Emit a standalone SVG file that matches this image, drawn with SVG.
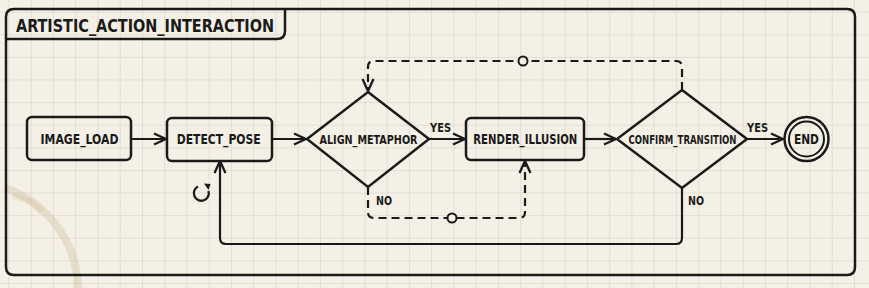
<svg xmlns="http://www.w3.org/2000/svg" width="869" height="288" viewBox="0 0 869 288">
<style>
.node{fill:none;stroke:#1a1a1a;stroke-width:2.5}
.lbl{font-family:"DejaVu Sans Condensed","DejaVu Sans",sans-serif;font-stretch:condensed;font-weight:bold;fill:#1a1a1a}
.conn{fill:none;stroke:#1a1a1a;stroke-width:2.2;stroke-linejoin:round}
.dash{stroke-dasharray:8 5}
</style>
<defs>
<pattern id="grid" patternUnits="userSpaceOnUse" x="8.45" y="11.7" width="22.25" height="22.6">
<path d="M0,0 V22.6 M0,0 H22.25" fill="none" stroke="#d3cec2" stroke-width="1"/>
</pattern>
<marker id="arr" viewBox="0 0 14 14" refX="13" refY="7" markerWidth="14" markerHeight="14" markerUnits="userSpaceOnUse" orient="auto">
<path d="M1,1.5 L13,7 L1,12.5" fill="none" stroke="#1a1a1a" stroke-width="2.3" stroke-linejoin="miter"/>
</marker>
</defs>
<rect width="869" height="288" fill="#f4f0e6"/>
<rect width="869" height="288" fill="url(#grid)"/>
<path d="M5,188 A108,108 0 0 1 78,288" fill="none" stroke="#c9b48f" stroke-opacity="0.3" stroke-width="8"/>
<path d="M12,196 Q30,198 42,212" fill="none" stroke="#c9b48f" stroke-opacity="0.22" stroke-width="6"/>

<g id="frame">
<path d="M6,17 Q6,9 14,9 H847 Q855,9 855,17 V267 Q855,275 847,275 H14 Q6,275 6,267 Z" fill="none" stroke="#1a1a1a" stroke-width="2.5"/>
<path d="M6,39 H277 Q285,39 285,31 V9" fill="none" stroke="#1a1a1a" stroke-width="2.5"/>
<text class="lbl" x="16" y="31.5" font-size="18" textLength="258" lengthAdjust="spacingAndGlyphs">ARTISTIC_ACTION_INTERACTION</text>
</g>

<g id="connectors">
<path class="conn" d="M131,139 H166" marker-end="url(#arr)"/>
<path class="conn" d="M272,139 H306" marker-end="url(#arr)"/>
<path class="conn" d="M429,139 H465" marker-end="url(#arr)"/>
<path class="conn" d="M584,139 H616" marker-end="url(#arr)"/>
<path class="conn" d="M747,139 H783" marker-end="url(#arr)"/>
<path class="conn dash" d="M368,187 V212 Q368,218 374,218 H519 Q525,218 525,212 V161" marker-end="url(#arr)"/>
<path class="conn dash" d="M682,90 V67 Q682,61 676,61 H374 Q368,61 368,67 V91" marker-end="url(#arr)"/>
<path class="conn" d="M682,188 V238 Q682,244 676,244 H226 Q220,244 220,238 V161" marker-end="url(#arr)"/>
<circle cx="452" cy="218" r="4.5" fill="#f4f0e6" stroke="#1a1a1a" stroke-width="2"/>
<circle cx="523" cy="61" r="4.5" fill="#f4f0e6" stroke="#1a1a1a" stroke-width="2"/>
<text class="lbl" x="430" y="131.5" font-size="13" textLength="21" lengthAdjust="spacingAndGlyphs">YES</text>
<text class="lbl" x="747" y="131.5" font-size="13" textLength="21" lengthAdjust="spacingAndGlyphs">YES</text>
<text class="lbl" x="376" y="205" font-size="13" textLength="16" lengthAdjust="spacingAndGlyphs">NO</text>
<text class="lbl" x="688" y="205" font-size="13" textLength="16" lengthAdjust="spacingAndGlyphs">NO</text>
</g>

<g id="loop-icon">
<path d="M198,186.5 A7.5,7.5 0 1 0 208.5,191" fill="none" stroke="#1a1a1a" stroke-width="2.3"/>
<path d="M204,183.5 L210.5,184 L208.5,190 Z" fill="#1a1a1a"/>
</g>

<g id="image_load">
<rect class="node" x="27" y="117" width="104" height="43" rx="5"/>
<text class="lbl" x="79.5" y="144.3" font-size="14.5" text-anchor="middle" textLength="78" lengthAdjust="spacingAndGlyphs">IMAGE_LOAD</text>
</g>
<g id="detect_pose">
<rect class="node" x="167" y="118" width="105" height="43" rx="5"/>
<text class="lbl" x="218.7" y="144.3" font-size="14" text-anchor="middle" textLength="84" lengthAdjust="spacingAndGlyphs">DETECT_POSE</text>
</g>
<g id="align_metaphor">
<polygon class="node" points="368,92 429,139 368,187 307,139"/>
<text class="lbl" x="368.5" y="144" font-size="12.5" text-anchor="middle" textLength="98" lengthAdjust="spacingAndGlyphs">ALIGN_METAPHOR</text>
</g>
<g id="render_illusion">
<rect class="node" x="466" y="118" width="118" height="42" rx="5"/>
<text class="lbl" x="525.3" y="144.3" font-size="14" text-anchor="middle" textLength="104" lengthAdjust="spacingAndGlyphs">RENDER_ILLUSION</text>
</g>
<g id="confirm_transition">
<polygon class="node" points="682,90 747,139 682,188 617,139"/>
<text class="lbl" x="682.5" y="143.5" font-size="11.5" text-anchor="middle" textLength="108" lengthAdjust="spacingAndGlyphs">CONFIRM_TRANSITION</text>
</g>
<g id="end">
<circle cx="806.5" cy="139" r="22" fill="none" stroke="#1a1a1a" stroke-width="2.5"/>
<circle cx="806.5" cy="139" r="17.5" fill="none" stroke="#1a1a1a" stroke-width="2"/>
<text class="lbl" x="806.4" y="144.3" font-size="14" text-anchor="middle" textLength="25" lengthAdjust="spacingAndGlyphs">END</text>
</g>
</svg>
